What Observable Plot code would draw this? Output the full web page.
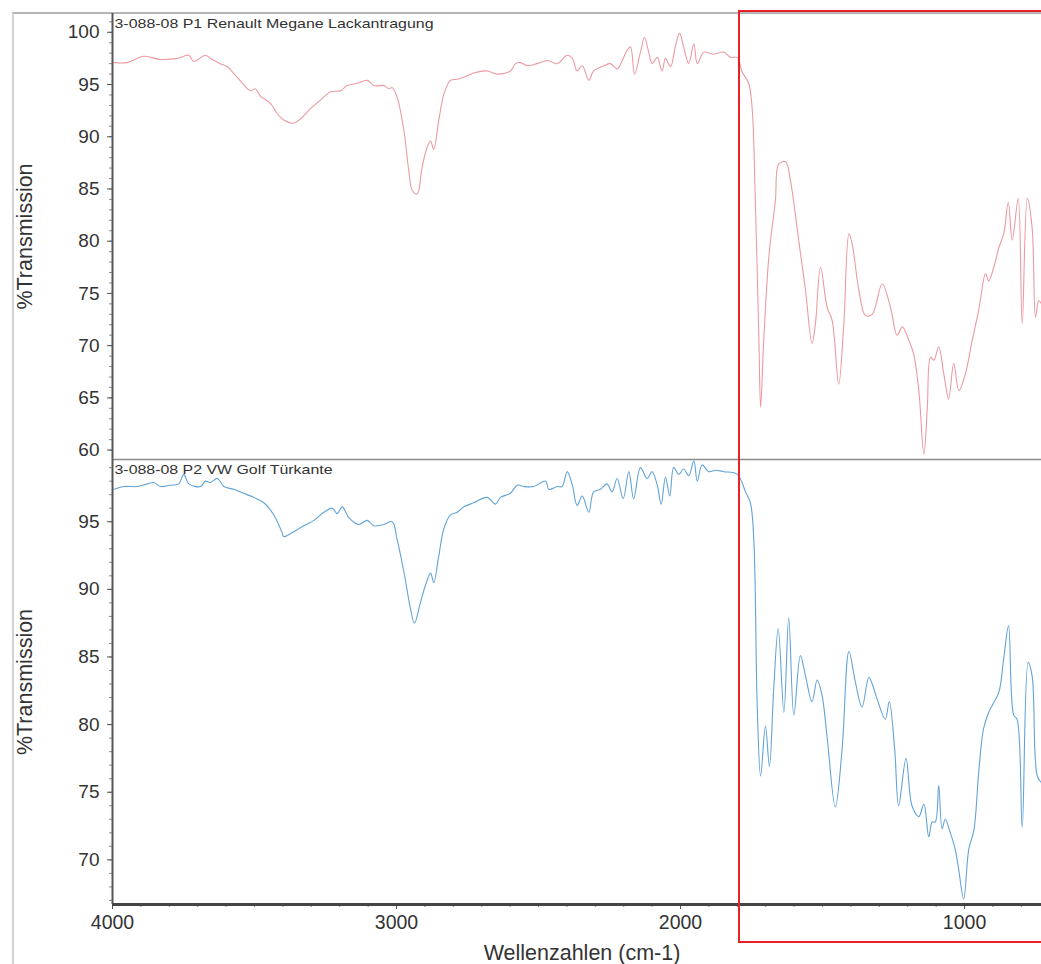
<!DOCTYPE html>
<html><head><meta charset="utf-8">
<script src="https://cdn.jsdelivr.net/npm/d3@7"></script>
<script src="https://cdn.jsdelivr.net/npm/@observablehq/plot@0.6"></script>
<style>
body{margin:0;background:#fff;}
#wrap{position:relative;width:1041px;height:964px;overflow:hidden;background:#fff;font-family:"Liberation Sans",Arial,sans-serif;}
#top,#bottom{position:absolute;left:0;}
#top{top:0}
#bottom{top:459px}
#frame{position:absolute;left:12px;top:12px;width:1100px;height:1000px;border-left:2px solid #d2d2d2;border-top:2px solid #b5b5b5;}
#box{position:absolute;left:738px;top:10px;width:400px;height:929px;border:2px solid #e8202a;}
</style></head>
<body><div id="wrap"><div id="frame"></div><div id="top"></div><div id="bottom"></div><div id="box"></div></div>
<script>
// ---- data ----
const topName = "3-088-08 P1 Renault Megane Lackantragung";
const bottomName = "3-088-08 P2 VW Golf Türkante";
const yTitle = "%Transmission";
const xTitle = "Wellenzahlen (cm-1)";

const xTicks = [4000, 3000, 2000, 1000];
const topTicks = [60, 65, 70, 75, 80, 85, 90, 95, 100];
const bottomTicks = [70, 75, 80, 85, 90, 95];

const topWave = [3995,3948,3890,3831,3772,3731,3714,3673,3655,3620,
3596,3561,3514,3497,3479,3444,3420,3397,3362,3338,
3303,3268,3232,3197,3174,3139,3103,3080,3045,3027,
3015,2998,2974,2957,2945,2927,2910,2892,2880,2869,
2851,2833,2810,2786,2763,2728,2681,2646,2599,2581,
2563,2540,2505,2469,2434,2399,2381,2364,2346,2323,
2306,2270,2247,2223,2205,2188,2176,2162,2141,2127,
2112,2100,2082,2065,2053,2035,2018,2003,1989,1971,
1953,1941,1918,1883,1848,1824,1800,1783,1760,1748,
1736,1724,1718,1707,1689,1666,1654,1630,1613,1584,
1560,1537,1525,1507,1484,1466,1443,1425,1407,1396,
1372,1349,1325,1290,1261,1237,1219,1196,1179,1161,
1143,1131,1120,1108,1091,1073,1056,1038,1020,997,
973,950,926,915,897,879,862,846,832,811,
797,779,762,750,739,729];
const topT = [97.1,97.1,97.7,97.4,97.5,97.8,97.2,97.8,97.5,97.0,
96.7,95.7,94.4,94.6,93.9,93.2,92.2,91.6,91.3,91.7,
92.7,93.5,94.3,94.4,94.9,95.1,95.4,94.9,94.9,94.6,
94.7,93.8,90.6,86.8,84.9,84.5,87.1,89.0,89.6,88.8,
91.6,94.1,95.4,95.5,95.7,96.1,96.3,96.0,96.3,97.0,
97.1,96.8,97.0,97.3,97.0,97.8,97.5,96.3,96.8,95.4,
96.3,96.8,97.0,96.5,97.3,98.3,98.6,96.0,98.1,99.5,
98.1,97.0,97.6,96.3,97.5,96.7,98.7,99.9,98.6,97.0,
98.9,97.0,98.1,97.9,98.1,97.6,97.6,96.2,95.1,92.8,
83.3,70.5,64.1,70.5,78.5,83.9,87.4,87.6,85.8,80.1,
75.3,70.2,72.1,77.5,73.7,72.4,66.3,72.1,80.7,79.8,
75.3,72.9,73.0,75.9,73.7,71.0,71.8,70.5,69.2,65.7,
59.6,64.1,68.9,68.6,69.9,67.3,64.9,68.3,65.7,67.3,
70.5,73.4,76.9,76.2,77.5,79.4,80.7,83.7,80.1,84.1,
72.1,84.1,81.3,72.7,74.3,74.0];

const bottomWave = [3995,3960,3913,3878,3855,3831,3796,3767,3749,3731,
3690,3673,3655,3631,3608,3573,3538,3503,3467,3432,
3403,3397,3367,3327,3291,3256,3226,3209,3191,3168,
3133,3103,3080,3045,3015,2998,2974,2951,2937,2916,
2898,2880,2869,2851,2833,2810,2786,2763,2728,2681,
2652,2634,2599,2575,2552,2517,2475,2464,2434,2417,
2399,2381,2364,2346,2323,2306,2282,2259,2241,2223,
2202,2182,2165,2141,2118,2100,2082,2068,2053,2038,
2024,2006,1989,1971,1953,1941,1924,1901,1877,1848,
1800,1771,1754,1742,1730,1718,1701,1687,1672,
1656,1636,1619,1601,1578,1560,1537,1519,1502,1484,
1455,1431,1407,1384,1361,1337,1325,1308,1279,1265,
1246,1232,1206,1185,1161,1143,1126,1114,1103,1091,
1079,1068,1050,1033,1020,1003,985,967,950,933,
915,903,879,862,845,827,815,797,776,762,
744,729];
const bottomT = [97.4,97.6,97.6,97.8,97.9,97.6,97.7,97.8,98.5,97.8,
97.6,98.0,97.9,98.2,97.6,97.4,97.1,96.8,96.4,95.5,
94.2,93.9,94.2,94.7,95.1,95.7,96.0,95.6,96.1,95.3,
94.8,95.1,94.7,94.8,95.0,93.7,91.3,88.6,87.5,89.0,
90.3,91.2,90.5,92.5,94.5,95.5,95.7,96.1,96.4,96.8,
96.3,96.8,97.1,97.7,97.6,97.6,98.0,97.4,97.6,97.6,
98.7,97.7,96.2,96.9,95.7,97.2,97.4,97.8,97.2,98.2,
96.7,98.7,96.7,99.0,98.2,98.7,97.7,96.3,98.3,96.9,
99.0,98.5,98.9,98.4,99.5,98.0,99.2,98.7,98.8,98.7,
98.5,97.2,96.4,93.7,81.4,76.2,79.9,76.9,82.6,
87.1,80.9,87.9,80.7,85.1,83.6,81.7,83.3,82.2,79.1,
73.9,78.2,85.4,83.1,81.3,83.5,83.0,81.9,80.4,81.7,
78.2,74.0,77.5,74.0,73.2,74.1,71.7,72.8,72.8,75.5,
72.3,73.0,72.0,70.8,69.2,67.1,70.8,72.2,76.5,79.7,
80.9,81.4,82.4,84.9,87.3,80.7,80.4,72.4,84.6,83.6,
76.2,75.7];

// ---- build ----
const xDomain = [4000, 729];
const topDomain = [59.1, 101.8];
const bottomDomain = [66.7, 99.6];
const topData = topWave.map((w, i) => ({w, t: topT[i]}));
const bottomData = bottomWave.map((w, i) => ({w, t: bottomT[i]}));
const topMinor = d3.range(60, 102, 1);
const bottomMinor = d3.range(67, 100, 1);
const xMinor = d3.range(800, 4001, 100);
const font = "Liberation Sans, Arial, sans-serif";
const numFmt = d => String(d);
const blank = () => "";

function panel(opts) {
  const marks = [
    Plot.axisY(opts.minor, {label: null, tickSize: 3, tickFormat: blank, stroke: "#8a8a8a"}),
    Plot.axisY(opts.ticks, {label: null, tickSize: 5, tickPadding: 8, tickFormat: numFmt, fontSize: 19, fill: "#333", stroke: "#555"})
  ];
  if (opts.xaxis) {
    marks.push(
      Plot.axisX(xMinor, {label: null, tickSize: 3, tickFormat: blank, stroke: "#8a8a8a"}),
      Plot.axisX(xTicks, {label: null, tickSize: 5, tickPadding: 6, tickFormat: numFmt, fontSize: 19.5, fill: "#333", stroke: "#555"})
    );
  }
  marks.push(
    Plot.line(opts.data, {x: "w", y: "t", stroke: opts.color, strokeWidth: 1.1, curve: "catmull-rom", clip: true}),
    Plot.ruleX([xDomain[0]], {stroke: "#555", strokeWidth: 2}),
    Plot.ruleY([opts.domain[0]], {stroke: opts.xaxis ? "#444" : "#8c8c8c", strokeWidth: opts.xaxis ? 3 : 1.5}),
    Plot.text([opts.name], {frameAnchor: "top-left", dx: 2, dy: 5, lineAnchor: "top", textAnchor: "start", fontSize: 13, fill: "#333", className: "ptitle"}),
    Plot.text([yTitle], {frameAnchor: "left", dx: -87, rotate: -90, textAnchor: "middle", lineAnchor: "middle", fontSize: 21.5, fill: "#333"})
  );
  if (opts.xaxis) {
    marks.push(Plot.text([xTitle], {frameAnchor: "bottom", dx: 5, dy: 49, textAnchor: "middle", lineAnchor: "middle", fontSize: 21.5, fill: "#333"}));
  }
  const svg = Plot.plot({
    width: 1041, height: opts.height,
    marginTop: opts.marginTop, marginBottom: opts.marginBottom, marginLeft: 112, marginRight: 0,
    style: {background: "transparent", fontFamily: font, color: "#333", overflow: "visible"},
    x: {domain: xDomain, axis: null},
    y: {domain: opts.domain, axis: null},
    marks
  });
  // the reference's panel titles are drawn horizontally stretched
  d3.select(svg).selectAll(".ptitle text")
    .attr("textLength", opts.titleWidth)
    .attr("lengthAdjust", "spacingAndGlyphs");
  return svg;
}

document.getElementById("top").appendChild(panel({
  height: 459, marginTop: 13, marginBottom: 0, domain: topDomain, minor: topMinor, ticks: topTicks,
  data: topData, color: "#ec9aa1", name: topName, titleWidth: 319, xaxis: false
}));
document.getElementById("bottom").appendChild(panel({
  height: 505, marginTop: 0, marginBottom: 60, domain: bottomDomain, minor: bottomMinor, ticks: bottomTicks,
  data: bottomData, color: "#62a3d8", name: bottomName, titleWidth: 218, xaxis: true
}));
</script>
</body></html>
